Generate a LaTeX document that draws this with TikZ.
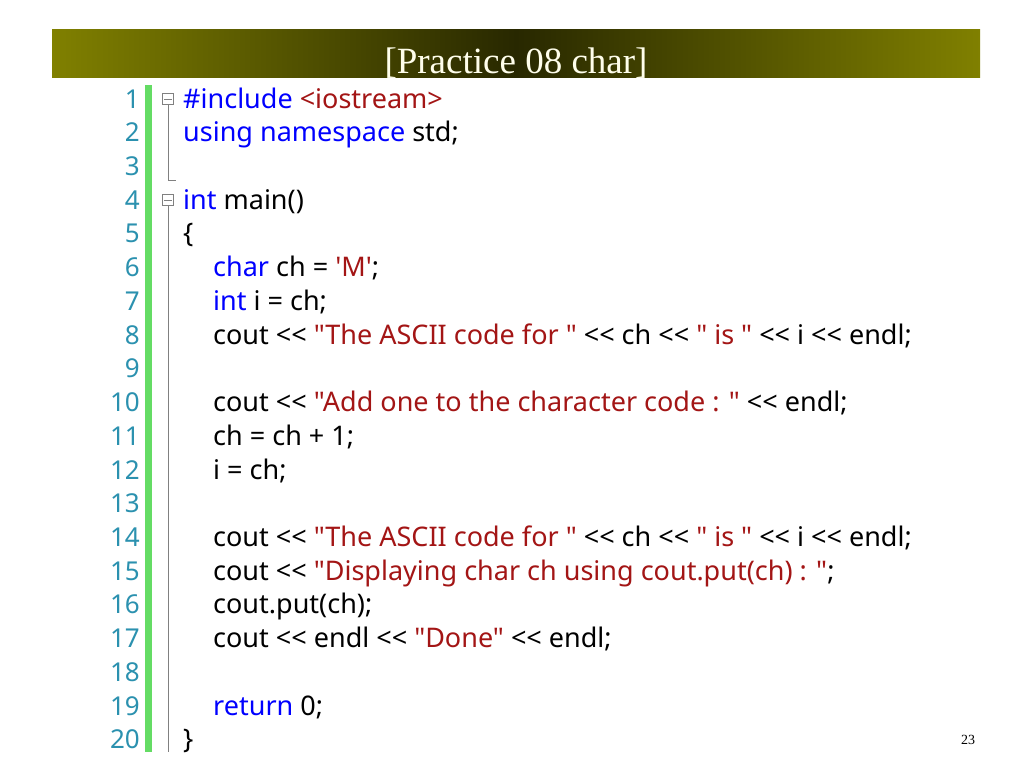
\documentclass[tikz,border=0pt]{standalone}
\usepackage{fontspec}
\setmainfont{Liberation Serif}
\newfontfamily\codefont{Noto Sans}
\begin{document}
\begin{tikzpicture}[x=1pt,y=-1pt]
\definecolor{olv}{RGB}{128,128,0}
\definecolor{dk}{RGB}{40,40,0}
\definecolor{kw}{RGB}{0,0,255}
\definecolor{st}{RGB}{163,21,21}
\definecolor{ln}{RGB}{43,145,175}
\definecolor{gb}{RGB}{100,220,100}
\tikzset{code/.style={anchor=base west,inner sep=0pt,font=\codefont\fontsize{27}{30}\selectfont},
 num/.style={anchor=base east,inner sep=0pt,text=ln,font=\codefont\fontsize{26}{30}\selectfont},
 fold/.style={draw=gray,fill=white,minimum size=11pt,inner sep=0pt}}
\useasboundingbox (0,0) rectangle (1024,768);
\fill[white] (0,0) rectangle (1024,768);
\shade[left color=olv,right color=dk] (52,30) rectangle (516,77);
\shade[left color=dk,right color=olv] (516,30) rectangle (980,77);
\begin{scope}
\clip (52,30) rectangle (980,77);
\node[font=\fontsize{37}{40}\selectfont,text=white!92!yellow,anchor=base] (title) at (516,74) {[Practice 08 char]};
\end{scope}
\fill[gb] (145,85) rectangle (152,752);
\def\Y#1{{108+33.73*(#1-1)}}
\foreach \i in {1,...,20}{\node[num] (n\i) at (140,\Y{\i}) {\i};}
% fold markers
\draw[gray] (168,99) -- (168,180) -- (176,180);
\draw[gray] (168,200) -- (168,752);
\node[fold] (f1) at (168,99) {};
\node[fold] (f4) at (168,200) {};
\draw[gray] (164,99) -- (172,99);
\draw[gray] (164,200) -- (172,200);
\node[code] (c1) at (183,\Y{1}) {\textcolor{kw}{\#include} \textcolor{st}{<iostream>}};
\node[code] (c2) at (183,\Y{2}) {\textcolor{kw}{using namespace} std;};
\node[code] (c4) at (183,\Y{4}) {\textcolor{kw}{int} main()};
\node[code] (c5) at (183,\Y{5}) {\{};
\node[code] (c6) at (213,\Y{6}) {\textcolor{kw}{char} ch = \textcolor{st}{'M'};};
\node[code] (c7) at (213,\Y{7}) {\textcolor{kw}{int} i = ch;};
\node[code] (c8) at (213,\Y{8}) {cout << \textcolor{st}{"The ASCII code for "} << ch << \textcolor{st}{" is "} << i << endl;};
\node[code] (c10) at (213,\Y{10}) {cout << \textcolor{st}{"Add one to the character code : "} << endl;};
\node[code] (c11) at (213,\Y{11}) {ch = ch + 1;};
\node[code] (c12) at (213,\Y{12}) {i = ch;};
\node[code] (c14) at (213,\Y{14}) {cout << \textcolor{st}{"The ASCII code for "} << ch << \textcolor{st}{" is "} << i << endl;};
\node[code] (c15) at (213,\Y{15}) {cout << \textcolor{st}{"Displaying char ch using cout.put(ch) : "};};
\node[code] (c16) at (213,\Y{16}) {cout.put(ch);};
\node[code] (c17) at (213,\Y{17}) {cout << endl << \textcolor{st}{"Done"} << endl;};
\node[code] (c19) at (213,\Y{19}) {\textcolor{kw}{return} 0;};
\node[code] (c20) at (183,\Y{20}) {\}};
\node[font=\fontsize{14}{16}\selectfont] (pg) at (968,740) {23};
\end{tikzpicture}
\end{document}
